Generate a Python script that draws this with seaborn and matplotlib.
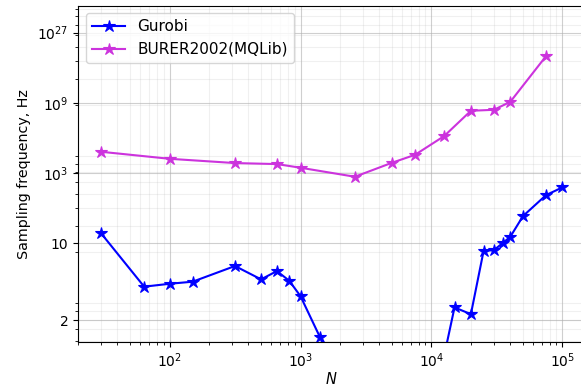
import numpy as np
import pandas as pd
import matplotlib
matplotlib.use("Agg")
import matplotlib.pyplot as plt
import matplotlib.ticker as mticker
import seaborn as sns

# ---- data ----
gurobi_n = [30, 64, 100, 150, 316, 500, 660, 820, 1000, 1400, 2000, 5000, 10000,
            15000, 20000, 25000, 30000, 35000, 40000, 50000, 75000, 100000]
gurobi_hz = [14.8, 3.22, 3.40, 3.54, 5.03, 3.71, 4.45, 3.61, 2.74, 1.71, 1.3, 1.2, 1.17,
             2.33, 2.14, 7.70, 7.95, 10.1, 12.85, 34.0, 134.0, 251.0]

burer_n = [30, 100, 316, 660, 1000, 2600, 5000, 7500, 12500, 20000, 30000, 40000, 75000]
burer_hz = [1.54e4, 5650, 3230, 2850, 1828, 681, 3370, 9880, 2.25e5, 8.9e7, 1.18e8,
            1.4e9, 4.9e18]

series_names = ["Gurobi", "BURER2002(MQLib)"]
series_colors = ["#0000ff", "#cc33dd"]

ytick_vals = [2, 10, 1e3, 1e9, 1e27]
ytick_labels = ["2", "10", r"$10^{3}$", r"$10^{9}$", r"$10^{27}$"]

# ---- figure ----
W, H = 581, 386
fig = plt.figure(figsize=(W / 100, H / 100), dpi=100)
left, right, bottom, top = 78, 585.5, 341.7, 5.6
ax = fig.add_axes([left / W, (H - bottom) / H, (right - left) / W, (bottom - top) / H])

df_g = pd.DataFrame({"N": gurobi_n, "f": gurobi_hz})
df_b = pd.DataFrame({"N": burer_n, "f": burer_hz})

for df, name, col in [(df_g, series_names[0], series_colors[0]),
                      (df_b, series_names[1], series_colors[1])]:
    sns.lineplot(data=df, x="N", y="f", ax=ax, color=col, marker="*",
                 markersize=9, markeredgecolor=col, markeredgewidth=0.8,
                 linewidth=1.5, label=name, estimator=None, sort=False)

ax.set_xscale("log")
ax.set_yscale("function",
              functions=(lambda y: np.log10(np.log(np.clip(y, 1.0000001, None))),
                         lambda t: np.exp(10.0 ** t)))

ax.set_xlim(10 ** 1.3009, 10 ** 5.1762)
ax.set_ylim(1.64, np.exp(94.8))

ax.yaxis.set_major_locator(mticker.FixedLocator(ytick_vals))
ax.yaxis.set_major_formatter(mticker.FixedFormatter(ytick_labels))
minor_ln = [k * 10.0 ** n for n in (-1, 0, 1) for k in range(2, 10)]
ax.yaxis.set_minor_locator(mticker.FixedLocator(np.exp(minor_ln)))
ax.yaxis.set_minor_formatter(mticker.NullFormatter())

ax.xaxis.set_major_locator(mticker.LogLocator(base=10))
ax.xaxis.set_minor_locator(mticker.LogLocator(base=10, subs=np.arange(2, 10)))
ax.xaxis.set_minor_formatter(mticker.NullFormatter())

ax.grid(which="major", color="#b0b0b0", alpha=0.6, linewidth=0.8)
ax.grid(which="minor", color="#b0b0b0", alpha=0.18, linewidth=0.8)
ax.set_axisbelow(True)

ax.set_xlabel(r"$N$", fontsize=10.5, labelpad=1)
ax.set_ylabel("Sampling frequency, Hz", fontsize=10.3)
ax.legend(loc="upper left", fontsize=11, handlelength=2.2)

fig.savefig("out.png", dpi=100)
